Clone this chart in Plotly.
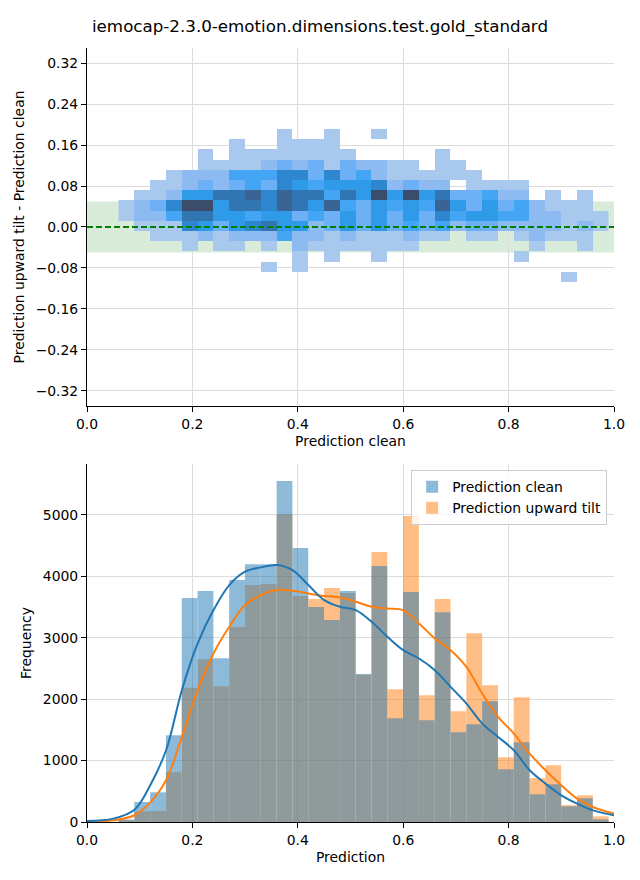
import plotly.graph_objects as go

# ---------------- data ----------------
title_text = "iemocap-2.3.0-emotion.dimensions.test.gold_standard"

# histogram bins (shared by both plots on the x axis)
bin_start = 0.0598
bin_width = 0.030
n_bins = 31

clean_counts = [40, 326, 484, 1413, 3647, 3761, 2668, 3940, 4196, 4196, 5554,
                4462, 3500, 3288, 3761, 2410, 4168, 1690, 3745, 1658, 3418,
                1462, 1592, 1967, 859, 1299, 451, 614, 255, 386, 43]
tilt_counts = [20, 174, 180, 810, 2185, 2652, 2212, 3174, 3859, 3875, 5011,
               3679, 3630, 3810, 3728, 2400, 4397, 2163, 4984, 2065, 3630,
               1804, 3076, 2228, 1054, 2033, 712, 924, 275, 435, 92]

kde_x = [0.0, 0.05, 0.09, 0.12, 0.15, 0.18, 0.21, 0.24, 0.27, 0.30, 0.33, 0.36,
         0.39, 0.42, 0.45, 0.48, 0.51, 0.54, 0.57, 0.60, 0.63, 0.66, 0.69, 0.72,
         0.75, 0.78, 0.81, 0.84, 0.87, 0.90, 0.93, 0.96, 1.0]
kde_clean = [15, 55, 200, 600, 1168, 2147, 2908, 3451, 3859, 4076, 4147, 4185,
             4103, 3859, 3614, 3505, 3451, 3261, 3016, 2799, 2663, 2473, 2201,
             1929, 1603, 1386, 1168, 842, 625, 435, 299, 190, 109]
kde_tilt = [5, 27, 110, 320, 679, 1386, 2147, 2745, 3179, 3533, 3696, 3777,
            3766, 3723, 3679, 3658, 3587, 3505, 3478, 3451, 3234, 2989, 2799,
            2527, 2092, 1712, 1440, 1114, 842, 598, 380, 245, 136]

# 2-D histogram of difference (y bins)
ybin_start = -0.1068
ybin_width = 0.0199
n_ybins = 15

# density level per cell; one list per x-bin column, rows listed from top (highest y) to bottom
cell_levels_by_column = [
    [0,0,0,0,0,0,0,1,1,0,0,0,0,0,0],
    [0,0,0,0,0,0,1,2,2,1,0,0,0,0,0],
    [0,0,0,0,0,1,1,3,2,1,1,0,0,0,0],
    [0,0,0,0,1,1,2,6,4,1,1,0,0,0,0],
    [0,0,0,0,2,2,5,9,7,6,1,1,0,0,0],
    [0,0,1,1,2,3,5,9,7,5,2,0,0,0,0],
    [0,0,0,1,2,2,7,5,5,3,1,1,0,0,0],
    [0,1,1,1,4,3,7,7,5,5,2,1,0,0,0],
    [0,0,1,1,4,4,8,7,4,6,2,0,0,0,0],
    [0,0,1,2,4,3,6,6,5,7,2,1,0,1,0],
    [1,1,1,3,6,6,8,8,5,5,4,0,0,0,0],
    [0,1,1,2,6,5,7,7,3,5,2,2,1,1,0],
    [0,1,1,3,3,4,7,5,4,2,2,1,0,0,0],
    [1,1,1,1,6,5,4,8,3,3,1,1,1,0,0],
    [0,0,1,3,3,5,7,4,5,5,2,1,0,0,0],
    [0,0,0,2,4,5,5,3,3,3,1,1,0,0,0],
    [1,0,0,2,2,6,9,5,5,5,1,1,1,0,0],
    [0,0,0,1,1,2,5,4,3,3,1,1,0,0,0],
    [0,0,0,1,1,3,9,5,5,4,2,1,0,0,0],
    [0,0,0,0,1,2,5,4,3,3,1,0,0,0,0],
    [0,0,1,1,1,2,7,8,6,4,1,0,0,0,0],
    [0,0,0,1,1,0,3,5,4,2,0,0,0,0,0],
    [0,0,0,0,1,1,3,3,5,3,1,0,0,0,0],
    [0,0,0,0,0,1,4,5,5,3,1,0,0,0,0],
    [0,0,0,0,0,1,2,3,4,2,0,0,0,0,0],
    [0,0,0,0,0,1,2,4,4,2,1,0,1,0,0],
    [0,0,0,0,0,0,0,2,2,2,2,1,0,0,0],
    [0,0,0,0,0,0,1,1,2,2,1,0,0,0,0],
    [0,0,0,0,0,0,0,1,1,1,1,0,0,0,1],
    [0,0,0,0,0,0,1,1,1,2,1,1,0,0,0],
    [0,0,0,0,0,0,0,0,1,1,0,0,0,0,0],
]
level_colors = ["#a9c8ee", "#8dbbf1", "#6eb0f5", "#45a5f5", "#2e9ae8",
                "#2e86cf", "#3175b3", "#3a6494", "#3c4d6b"]

y_ticks = [-0.32, -0.24, -0.16, -0.08, 0.0, 0.08, 0.16, 0.24, 0.32]
x_ticks = [0.0, 0.2, 0.4, 0.6, 0.8, 1.0]
freq_ticks = [0, 1000, 2000, 3000, 4000, 5000]
tolerance = 0.05

# ---------------- derived ----------------
x_edges = [bin_start + bin_width * i for i in range(n_bins + 1)]
x_centers = [bin_start + bin_width * (i + 0.5) for i in range(n_bins)]
y_edges = [ybin_start + ybin_width * i for i in range(n_ybins + 1)]

z = []
for r in range(n_ybins):  # r=0 bottom row
    row = []
    for col in cell_levels_by_column:
        v = col[n_ybins - 1 - r]
        row.append(v if v > 0 else None)
    z.append(row)

nlev = len(level_colors)
cscale = []
for i, c in enumerate(level_colors):
    cscale.append([i / nlev, c])
    cscale.append([(i + 1) / nlev, c])

FONT = "DejaVu Sans"
FS = 13.9
fig = go.Figure()

fig.add_trace(go.Heatmap(
    x=x_edges, y=y_edges, z=z, colorscale=cscale, zmin=0.5, zmax=nlev + 0.5,
    showscale=False, xaxis="x", yaxis="y", hoverinfo="skip"))

# orange drawn first, blue on top (as in the reference overlap colour)
fig.add_trace(go.Bar(
    x=x_centers, y=tilt_counts, width=bin_width, name="Prediction upward tilt",
    marker=dict(color="#ff7f0e", line=dict(width=0)), opacity=0.5, legendrank=2,
    xaxis="x2", yaxis="y2"))
fig.add_trace(go.Bar(
    x=x_centers, y=clean_counts, width=bin_width, name="Prediction clean",
    marker=dict(color="#1f77b4", line=dict(width=0)), opacity=0.5, legendrank=1,
    xaxis="x2", yaxis="y2"))
fig.add_trace(go.Scatter(
    x=kde_x, y=kde_tilt, mode="lines", line=dict(color="#ff7f0e", width=2, shape="spline"),
    showlegend=False, xaxis="x2", yaxis="y2", hoverinfo="skip"))
fig.add_trace(go.Scatter(
    x=kde_x, y=kde_clean, mode="lines", line=dict(color="#1f77b4", width=2, shape="spline"),
    showlegend=False, xaxis="x2", yaxis="y2", hoverinfo="skip"))

# tolerance band and zero line
fig.add_shape(type="rect", xref="x", yref="y", x0=0, x1=1, y0=-tolerance, y1=tolerance,
              fillcolor="rgba(0,128,0,0.15)", line=dict(width=0), layer="below")
fig.add_shape(type="line", xref="x", yref="y", x0=0, x1=1, y0=0, y1=0,
              line=dict(color="green", width=2, dash="6px,3px"), layer="above")

axis_common = dict(
    showline=True, linecolor="black", linewidth=1, ticks="outside", ticklen=5,
    tickcolor="black", tickwidth=1, showgrid=True, gridcolor="#dcdcdc", gridwidth=1,
    zeroline=False, tickfont=dict(family=FONT, size=FS, color="black"),
    title_font=dict(family=FONT, size=FS, color="black"), automargin=False,
)

top_dom = [0.5375, 1.0]
bot_dom = [0.0, 0.4625]

fig.update_layout(
    width=640, height=880,
    margin=dict(l=87, r=26, t=48, b=58, autoexpand=False),
    paper_bgcolor="white", plot_bgcolor="white",
    font=dict(family=FONT, size=FS, color="black"),
    title=dict(text=title_text, x=0.5, xref="container", xanchor="center",
               y=1 - 26 / 880, yref="container", yanchor="middle",
               font=dict(family=FONT, size=16.7, color="black")),
    barmode="overlay",
    showlegend=True,
    legend=dict(x=0.987, xanchor="right", y=0.4545, yanchor="top",
                bgcolor="rgba(255,255,255,0.8)", bordercolor="#cccccc", borderwidth=1,
                font=dict(family=FONT, size=FS, color="black"), tracegroupgap=0),
    xaxis=dict(axis_common, domain=[0, 1], anchor="y", range=[0, 1], tickvals=x_ticks,
               tickformat=".1f", title=dict(text="Prediction clean", standoff=5)),
    yaxis=dict(axis_common, domain=top_dom, anchor="x", range=[-0.35, 0.35],
               tickvals=y_ticks, tickformat=".2f",
               title=dict(text="Prediction upward tilt - Prediction clean", standoff=7)),
    xaxis2=dict(axis_common, domain=[0, 1], anchor="y2", range=[0, 1], tickvals=x_ticks,
                tickformat=".1f", title=dict(text="Prediction", standoff=5)),
    yaxis2=dict(axis_common, domain=bot_dom, anchor="x2", range=[0, 5830],
                tickvals=freq_ticks, tickformat="d",
                title=dict(text="Frequency", standoff=7)),
)

fig.write_html("out.html", config={"displayModeBar": False},
               post_script="document.body.style.margin='0px';")
